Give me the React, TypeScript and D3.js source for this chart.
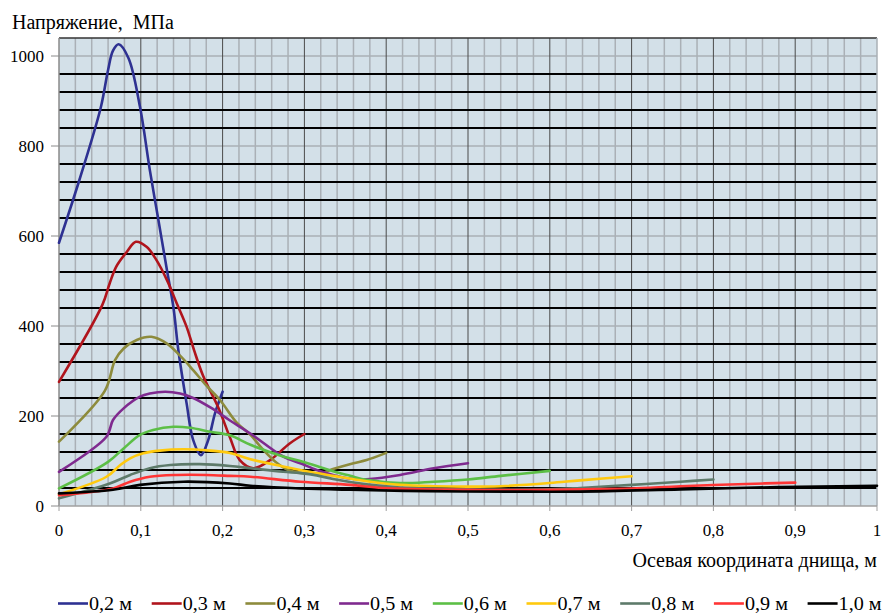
import React from "react";
import * as d3 from "d3";

// Stress along the bottom axis for different bottom lengths
type Pt = [number, number];

const seriesNames = ["0,2 м", "0,3 м", "0,4 м", "0,5 м", "0,6 м", "0,7 м", "0,8 м", "0,9 м", "1,0 м"];
const seriesColors = ["#2e3192", "#b0141c", "#8d8b3c", "#7f2a8f", "#5cbf46", "#ffc90e", "#5d7a6a", "#ff3535", "#000000"];

const s02: Pt[] = [[0, 585], [0.025, 725], [0.051, 885], [0.06, 969], [0.066, 1012], [0.073, 1026], [0.085, 995], [0.099, 887], [0.111, 747], [0.121, 641], [0.132, 524], [0.14, 440], [0.146, 345], [0.156, 228], [0.164, 147], [0.1736, 113], [0.1825, 147], [0.1907, 206], [0.2, 254]];
const s03: Pt[] = [[0, 276], [0.053, 447], [0.062, 495], [0.07, 532], [0.083, 565], [0.094, 587], [0.107, 576], [0.119, 547], [0.132, 502], [0.144, 450], [0.156, 398], [0.165, 347], [0.176, 290], [0.195, 218], [0.209, 152], [0.221, 102], [0.2375, 84], [0.258, 102], [0.282, 139], [0.3, 160]];
const s04: Pt[] = [[0, 143], [0.056, 256], [0.0685, 324], [0.079, 350], [0.095, 369], [0.113, 376], [0.132, 361], [0.148, 334], [0.164, 302], [0.18, 268], [0.197, 235], [0.217, 186], [0.234, 158], [0.25, 124], [0.266, 96], [0.28, 80], [0.3, 73], [0.32, 73], [0.335, 82], [0.36, 95], [0.376, 102], [0.4, 118]];
const s05: Pt[] = [[0, 76], [0.058, 154], [0.066, 191], [0.079, 217], [0.099, 243], [0.111, 250], [0.13, 254], [0.148, 250], [0.164, 240], [0.185, 219], [0.209, 190], [0.234, 161], [0.274, 110], [0.295, 95], [0.315, 80], [0.335, 69], [0.356, 61], [0.38, 60], [0.417, 69], [0.458, 84], [0.5, 95]];
const s06: Pt[] = [[0, 39], [0.06, 98], [0.079, 128], [0.099, 158], [0.115, 169], [0.14, 176], [0.16, 174], [0.185, 165], [0.209, 157], [0.234, 136], [0.274, 110], [0.295, 100], [0.315, 89], [0.335, 77], [0.356, 67], [0.376, 58], [0.417, 51], [0.458, 54], [0.5, 59], [0.54, 67], [0.6, 78]];
const s07: Pt[] = [[0, 26], [0.058, 65], [0.075, 91], [0.087, 106], [0.103, 117], [0.123, 123], [0.152, 126], [0.185, 123], [0.209, 118], [0.234, 104], [0.274, 88], [0.295, 80], [0.315, 73], [0.335, 67], [0.376, 55], [0.417, 47], [0.458, 44], [0.5, 43], [0.54, 44], [0.6, 51], [0.637, 57], [0.7, 66]];
const s08: Pt[] = [[0, 17], [0.062, 50], [0.087, 69], [0.111, 84], [0.136, 91], [0.172, 93], [0.209, 89], [0.234, 84], [0.274, 76], [0.295, 73], [0.315, 68], [0.335, 60], [0.376, 48], [0.417, 41], [0.5, 37], [0.6, 37], [0.637, 40], [0.7, 47], [0.76, 54], [0.8, 59]];
const s09: Pt[] = [[0, 24], [0.066, 39], [0.087, 54], [0.111, 65], [0.144, 69], [0.18, 69], [0.209, 67], [0.234, 65], [0.295, 54], [0.356, 47], [0.396, 40], [0.5, 36], [0.6, 36], [0.637, 37], [0.7, 39], [0.76, 44], [0.84, 49], [0.9, 52]];
const s10: Pt[] = [[0, 28], [0.066, 36], [0.099, 47], [0.152, 54], [0.209, 50], [0.234, 45], [0.295, 39], [0.356, 36], [0.45, 33], [0.55, 32], [0.637, 32], [0.76, 37], [0.88, 42], [1.0, 45]];

const allSeries = [s02, s03, s04, s05, s06, s07, s08, s09, s10];

const xTicks = [0, 0.1, 0.2, 0.3, 0.4, 0.5, 0.6, 0.7, 0.8, 0.9, 1];
const xTickLabels = ["0", "0,1", "0,2", "0,3", "0,4", "0,5", "0,6", "0,7", "0,8", "0,9", "1"];
const yTicks = [0, 200, 400, 600, 800, 1000];

const yTitle = "Напряжение,  МПа";
const xTitle = "Осевая координата днища, м";

const W = 882;
const H = 615;
const font = '"Liberation Serif", "Times New Roman", serif';
const tickStyle: React.CSSProperties = { fontFamily: font, fontSize: 17 };
const titleStyle: React.CSSProperties = { fontFamily: font, fontSize: 20, whiteSpace: "pre" };
const legendStyle: React.CSSProperties = { fontFamily: font, fontSize: 18 };

export default function App() {
  const x = d3.scaleLinear().domain([0, 1]).range([59, 877]);
  const y = d3.scaleLinear().domain([0, 1040]).range([506, 38]);
  const line = d3
    .line<Pt>()
    .x((d) => x(d[0]))
    .y((d) => y(d[1]))
    .curve(d3.curveCatmullRom.alpha(0.5));

  const vGrid = d3.range(0, 51).map((i) => i / 50);
  const hGrid = d3.range(1, 27).map((i) => i * 40);

  return (
    <svg width={W} height={H} style={{ position: "absolute", left: 0, top: 0, background: "#fff" }}>
      <rect x={x(0)} y={y(1040)} width={x(1) - x(0)} height={y(0) - y(1040)} fill="#d3e0e8" />
      {vGrid.map((v, i) =>
        i % 5 === 0 ? null : (
          <line key={"v" + i} x1={x(v)} x2={x(v)} y1={y(0)} y2={y(1040)} stroke="#aab0b6" strokeWidth={1.5} />
        )
      )}
      {hGrid.map((v) =>
        v % 200 === 0 ? (
          <line key={"h" + v} x1={x(0)} x2={x(1)} y1={y(v)} y2={y(v)} stroke="#aab0b6" strokeWidth={1.5} />
        ) : null
      )}
      {vGrid.map((v, i) =>
        i % 5 === 0 && i > 0 && i < 50 ? (
          <line key={"V" + i} x1={x(v)} x2={x(v)} y1={y(0)} y2={y(1040)} stroke="#4a4a4a" strokeWidth={1} />
        ) : null
      )}
      {hGrid.map((v) =>
        v % 200 !== 0 && v < 1040 ? (
          <line key={"H" + v} x1={x(0)} x2={x(1)} y1={y(v)} y2={y(v)} stroke="#000" strokeWidth={2} />
        ) : null
      )}
      <line x1={x(0)} x2={x(1)} y1={y(1040)} y2={y(1040)} stroke="#333" strokeWidth={1.5} />
      <line x1={x(1)} x2={x(1)} y1={y(0)} y2={y(1040)} stroke="#aab0b6" strokeWidth={1.5} />

      {/* axes */}
      <line x1={x(0)} x2={x(0)} y1={y(0)} y2={y(1040)} stroke="#8a8a8a" strokeWidth={1.5} />
      <line x1={x(0)} x2={x(1)} y1={y(0)} y2={y(0)} stroke="#a0a0a0" strokeWidth={1.5} />
      {yTicks.map((t) => (
        <g key={"yt" + t}>
          <line x1={x(0) - 8} x2={x(0)} y1={y(t)} y2={y(t)} stroke="#8a8a8a" strokeWidth={1} />
          <text x={x(0) - 15} y={y(t)} dy="0.35em" textAnchor="end" style={tickStyle} fill="#000">
            {t}
          </text>
        </g>
      ))}
      {xTicks.map((t, i) => (
        <g key={"xt" + i}>
          <line x1={x(t)} x2={x(t)} y1={y(0)} y2={y(0) + 5} stroke="#a0a0a0" strokeWidth={1} />
          <text x={x(t)} y={y(0) + 30} textAnchor="middle" style={tickStyle} fill="#000">
            {xTickLabels[i]}
          </text>
        </g>
      ))}

      {allSeries.map((s, i) => (
        <path key={"s" + i} d={line(s) || ""} fill="none" stroke={seriesColors[i]} strokeWidth={2.6} strokeLinejoin="round" strokeLinecap="round" />
      ))}

      <text x={12} y={29} style={titleStyle} fill="#000">
        {yTitle}
      </text>
      <text x={877} y={567} textAnchor="end" style={titleStyle} fill="#000">
        {xTitle}
      </text>

      {seriesNames.map((n, i) => {
        const lx = 58 + i * 93.7;
        return (
          <g key={"lg" + i}>
            <line x1={lx} x2={lx + 30} y1={603.5} y2={603.5} stroke={seriesColors[i]} strokeWidth={2.6} />
            <text x={lx + 31} y={609.5} style={legendStyle} textLength={43} lengthAdjust="spacingAndGlyphs" fill="#000">
              {n}
            </text>
          </g>
        );
      })}
    </svg>
  );
}
